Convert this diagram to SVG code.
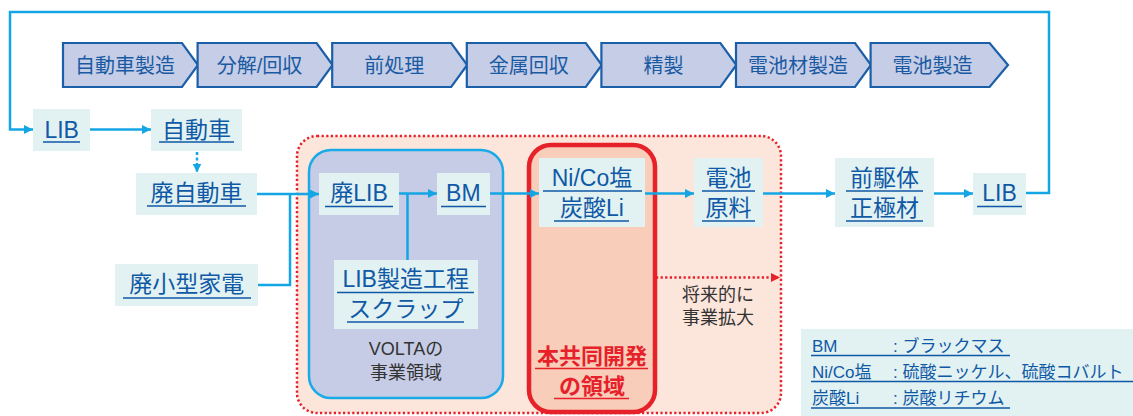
<svg xmlns="http://www.w3.org/2000/svg" width="1133" height="416" viewBox="0 0 1133 416">
<style>
text{font-family:"Liberation Sans","Noto Sans CJK JP",sans-serif;}
.chev{fill:#c6cde6;stroke:#1b5fa9;stroke-width:2.2;}
.ct{font-size:20px;fill:#1a5aa3;text-anchor:middle;}
.nb{fill:#e2f1f1;}
.nt{font-size:23px;fill:#0f59a6;text-anchor:middle;}
.ul{stroke:#0f59a6;stroke-width:1.6;fill:none;}
.con{stroke:#14a6e4;stroke-width:2.5;fill:none;}
.gt{font-size:18px;fill:#333;text-anchor:middle;}
.lt{font-size:17px;fill:#0f59a6;}
</style>
<defs>
<marker id="ab" viewBox="0 0 10 10" refX="10" refY="5" markerWidth="9" markerHeight="9" markerUnits="userSpaceOnUse" orient="auto"><path d="M0,0 L10,5 L0,10 z" fill="#14a6e4"/></marker>
<marker id="ar" viewBox="0 0 10 10" refX="10" refY="5" markerWidth="9" markerHeight="9" markerUnits="userSpaceOnUse" orient="auto"><path d="M0,0 L10,5 L0,10 z" fill="#e6212a"/></marker>
</defs>

<!-- regions -->
<g id="region-future">
<rect x="297" y="136" width="484" height="277" rx="20" fill="#fce5da" stroke="#e6212a" stroke-width="2.5" stroke-dasharray="2.2 2.4"/>
</g>
<g id="region-volta">
<rect x="309" y="150" width="194" height="248" rx="22" fill="#c6cce6" stroke="#19aae8" stroke-width="2.5"/>
<text class="gt" x="406" y="355">VOLTAの</text>
<text class="gt" x="406" y="379">事業領域</text>
</g>
<g id="region-joint">
<rect x="529" y="145" width="126" height="267" rx="22" fill="#f8cdb9" stroke="#e6212a" stroke-width="4.5"/>
<text x="592" y="364" font-size="22" font-weight="bold" fill="#e6212a" text-anchor="middle">本共同開発</text>
<text x="592" y="394" font-size="22" font-weight="bold" fill="#e6212a" text-anchor="middle">の領域</text>
<line x1="535" y1="368.5" x2="648" y2="368.5" stroke="#e6212a" stroke-width="1.6"/>
<line x1="554" y1="398.5" x2="629" y2="398.5" stroke="#e6212a" stroke-width="1.6"/>
</g>

<!-- chevrons -->
<g id="chevrons">
<g id="chev1"><path class="chev" d="M63,43 H182 L198,65 L182,87 H63 Z"/><text class="ct" x="125" y="72.5">自動車製造</text></g>
<g id="chev2"><path class="chev" d="M197.6,43 H316.6 L332.6,65 L316.6,87 H197.6 Z"/><text class="ct" x="259.6" y="72.5">分解/回収</text></g>
<g id="chev3"><path class="chev" d="M332.2,43 H451.2 L467.2,65 L451.2,87 H332.2 Z"/><text class="ct" x="394.2" y="72.5">前処理</text></g>
<g id="chev4"><path class="chev" d="M466.8,43 H585.8 L601.8,65 L585.8,87 H466.8 Z"/><text class="ct" x="528.8" y="72.5">金属回収</text></g>
<g id="chev5"><path class="chev" d="M601.4,43 H720.4 L736.4,65 L720.4,87 H601.4 Z"/><text class="ct" x="663.4" y="72.5">精製</text></g>
<g id="chev6"><path class="chev" d="M736,43 H855 L871,65 L855,87 H736 Z"/><text class="ct" x="798" y="72.5">電池材製造</text></g>
<g id="chev7"><path class="chev" d="M870.6,43 H989.6 L1008,65 L989.6,87 H870.6 Z"/><text class="ct" x="932.6" y="72.5">電池製造</text></g>
</g>

<!-- connectors -->
<g id="connectors">
<path class="con" d="M1026,193 H1049 V12 H10 V129.5 H33" marker-end="url(#ab)"/>
<path class="con" d="M90,129.5 H151" marker-end="url(#ab)"/>
<path class="con" d="M197,152 V172.5" stroke-dasharray="3 2.5" marker-end="url(#ab)"/>
<path class="con" d="M257,194 H319" marker-end="url(#ab)"/>
<path class="con" d="M258,285 H290 V194"/>
<path class="con" d="M399,193.5 H437" marker-end="url(#ab)"/>
<path class="con" d="M407.5,193.5 V260"/>
<path class="con" d="M490,193.5 H539" marker-end="url(#ab)"/>
<path class="con" d="M645,193.5 H694" marker-end="url(#ab)"/>
<path class="con" d="M763,193.5 H835" marker-end="url(#ab)"/>
<path class="con" d="M934,193.5 H973" marker-end="url(#ab)"/>
<path d="M656,277.5 H780" stroke="#e6212a" stroke-width="2.5" stroke-dasharray="2.2 2.4" fill="none" marker-end="url(#ar)"/>
</g>

<!-- nodes -->
<g id="node-lib1"><rect class="nb" x="33" y="109" width="57" height="42"/><text class="nt" x="61.7" y="138">LIB</text><line class="ul" x1="43" y1="142" x2="80" y2="142"/></g>
<g id="node-car"><rect class="nb" x="151" y="109" width="91" height="42"/><text class="nt" x="196.5" y="138">自動車</text><line class="ul" x1="159" y1="142" x2="234" y2="142"/></g>
<g id="node-wastecar"><rect class="nb" x="136" y="173" width="121" height="42"/><text class="nt" x="196.5" y="201">廃自動車</text><line class="ul" x1="147" y1="206" x2="246" y2="206"/></g>
<g id="node-wasteapp"><rect class="nb" x="115" y="264" width="143" height="42"/><text class="nt" x="186.7" y="292">廃小型家電</text><line class="ul" x1="123" y1="298" x2="251" y2="298"/></g>
<g id="node-wastelib"><rect class="nb" x="319" y="173" width="80" height="42"/><text class="nt" x="359" y="201">廃LIB</text><line class="ul" x1="325" y1="206.5" x2="393" y2="206.5"/></g>
<g id="node-bm"><rect class="nb" x="437" y="173" width="53" height="42"/><text class="nt" x="463.3" y="201">BM</text><line class="ul" x1="441" y1="206.5" x2="486" y2="206.5"/></g>
<g id="node-scrap"><rect class="nb" x="334" y="260" width="144" height="69"/><text class="nt" x="405.7" y="287">LIB製造工程</text><text class="nt" x="405.7" y="316.5">スクラップ</text><line class="ul" x1="337" y1="292.5" x2="474" y2="292.5"/><line class="ul" x1="347" y1="322" x2="464" y2="322"/></g>
<g id="node-nico"><rect class="nb" x="539" y="158" width="106" height="69"/><text class="nt" x="592" y="186">Ni/Co塩</text><text class="nt" x="592" y="216">炭酸Li</text><line class="ul" x1="543" y1="191" x2="642" y2="191"/><line class="ul" x1="554" y1="221" x2="629" y2="221"/></g>
<g id="node-material"><rect class="nb" x="694" y="158" width="69" height="69"/><text class="nt" x="728.5" y="186">電池</text><text class="nt" x="728.5" y="216">原料</text><line class="ul" x1="702" y1="191" x2="755" y2="191"/><line class="ul" x1="702" y1="221" x2="755" y2="221"/></g>
<g id="node-precursor"><rect class="nb" x="835" y="158" width="99" height="69"/><text class="nt" x="884.5" y="186">前駆体</text><text class="nt" x="884.5" y="216">正極材</text><line class="ul" x1="846" y1="191" x2="923" y2="191"/><line class="ul" x1="846" y1="221" x2="923" y2="221"/></g>
<g id="node-lib2"><rect class="nb" x="973" y="173" width="53" height="42"/><text class="nt" x="999.5" y="201">LIB</text><line class="ul" x1="977" y1="206.5" x2="1022" y2="206.5"/></g>

<g id="note-future">
<text class="gt" x="718" y="301">将来的に</text>
<text class="gt" x="718" y="324">事業拡大</text>
</g>

<!-- legend -->
<g id="legend">
<rect class="nb" x="801" y="329" width="332" height="87"/>
<text class="lt" x="812" y="352">BM</text><text class="lt" x="893" y="352">: ブラックマス</text>
<text class="lt" x="812" y="378">Ni/Co塩</text><text class="lt" x="893" y="378">: 硫酸ニッケル、硫酸コバルト</text>
<text class="lt" x="812" y="404">炭酸Li</text><text class="lt" x="893" y="404">: 炭酸リチウム</text>
<line class="ul" x1="811" y1="355.5" x2="1010" y2="355.5" stroke-width="1.3"/>
<line class="ul" x1="811" y1="381.5" x2="1133" y2="381.5" stroke-width="1.3"/>
<line class="ul" x1="811" y1="408" x2="1010" y2="408" stroke-width="1.3"/>
</g>
</svg>
